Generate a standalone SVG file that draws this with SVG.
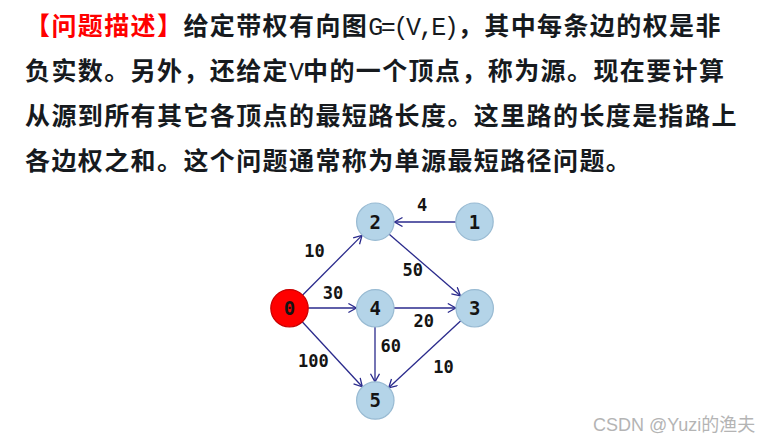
<svg xmlns="http://www.w3.org/2000/svg" width="768" height="441" viewBox="0 0 768 441">
<style>
.t{font-family:"Noto Sans CJK SC","Noto Sans",sans-serif;font-size:25px;font-weight:700;letter-spacing:1.4px;fill:#161a1e}
.m{font-family:"Liberation Mono","DejaVu Sans Mono",monospace;font-size:25px;font-weight:400;letter-spacing:-2.4px}
.red{fill:#ff0000}
.node{fill:#b4d4e8;stroke:#98bad2;stroke-width:1.2}
.src{fill:#ff0000;stroke:#c80000;stroke-width:1.2}
.nl{font-family:"DejaVu Sans Mono","Liberation Mono",monospace;font-size:19px;font-weight:700;fill:#141414;text-anchor:middle}
.el{font-family:"DejaVu Sans Mono","Liberation Mono",monospace;font-size:17px;font-weight:700;fill:#141414;text-anchor:middle}
.edge{stroke:#2a2a8c;stroke-width:1.3;fill:none;marker-end:url(#arr)}
.wm{font-family:"Liberation Sans","Noto Sans CJK SC",sans-serif;font-size:18px;fill:#b4b4b4}
</style>
<defs>
<marker id="arr" markerUnits="userSpaceOnUse" markerWidth="12" markerHeight="12" refX="9" refY="5" orient="auto" viewBox="0 0 12 12">
<path d="M1,0.5 L9,5 L1,9.5" fill="none" stroke="#2a2a8c" stroke-width="1.3"/>
</marker>
</defs>
<rect width="768" height="441" fill="#ffffff"/>
<g id="description">
<text class="t" x="25" y="35"><tspan class="red">【问题描述】</tspan>给定带权有向图<tspan class="m">G=(V,E)</tspan><tspan dx="1.4">，其中每条边的权是非</tspan></text>
<text class="t" x="25" y="80">负实数。另外，还给定<tspan class="m">V</tspan><tspan dx="1.4">中的一个顶点，称为源。现在要计算</tspan></text>
<text class="t" x="25" y="125">从源到所有其它各顶点的最短路长度。这里路的长度是指路上</text>
<text class="t" x="25" y="170">各边权之和。这个问题通常称为单源最短路径问题。</text>
</g>
<g id="connectors">
<line class="edge" x1="456" y1="222" x2="394.5" y2="222"/>
<line class="edge" x1="302.7" y1="295" x2="362" y2="235.4"/>
<line class="edge" x1="389.2" y1="234.2" x2="460.4" y2="295.8"/>
<line class="edge" x1="308.3" y1="308" x2="356.4" y2="308"/>
<line class="edge" x1="394" y1="308" x2="455.8" y2="308"/>
<line class="edge" x1="302.2" y1="321.7" x2="362.3" y2="386.8"/>
<line class="edge" x1="375" y1="327" x2="375" y2="381.8"/>
<line class="edge" x1="460.8" y1="320.7" x2="388.7" y2="387.8"/>
</g>
<g id="edge-labels">
<text class="el" x="422" y="210.5">4</text>
<text class="el" x="314.5" y="256.5">10</text>
<text class="el" x="412.7" y="275.5">50</text>
<text class="el" x="333" y="299">30</text>
<text class="el" x="423.7" y="326.8">20</text>
<text class="el" x="390.8" y="352.2">60</text>
<text class="el" x="313.3" y="366.8">100</text>
<text class="el" x="443.5" y="373">10</text>
</g>
<g id="node0"><circle class="src" cx="289.5" cy="308.3" r="18.7"/><text class="nl" x="289.5" y="315">0</text></g>
<g id="node1"><circle class="node" cx="474.5" cy="221.7" r="18.7"/><text class="nl" x="474.5" y="228.5">1</text></g>
<g id="node2"><circle class="node" cx="375.3" cy="221.7" r="18.7"/><text class="nl" x="375.3" y="228.5">2</text></g>
<g id="node3"><circle class="node" cx="474.7" cy="308.3" r="18.7"/><text class="nl" x="474.7" y="315">3</text></g>
<g id="node4"><circle class="node" cx="375.3" cy="308.3" r="18.7"/><text class="nl" x="375.3" y="315">4</text></g>
<g id="node5"><circle class="node" cx="375.3" cy="400.5" r="18.7"/><text class="nl" x="375.3" y="407.2">5</text></g>
<text class="wm" x="593" y="431">CSDN @Yuzi的渔夫</text>
</svg>
